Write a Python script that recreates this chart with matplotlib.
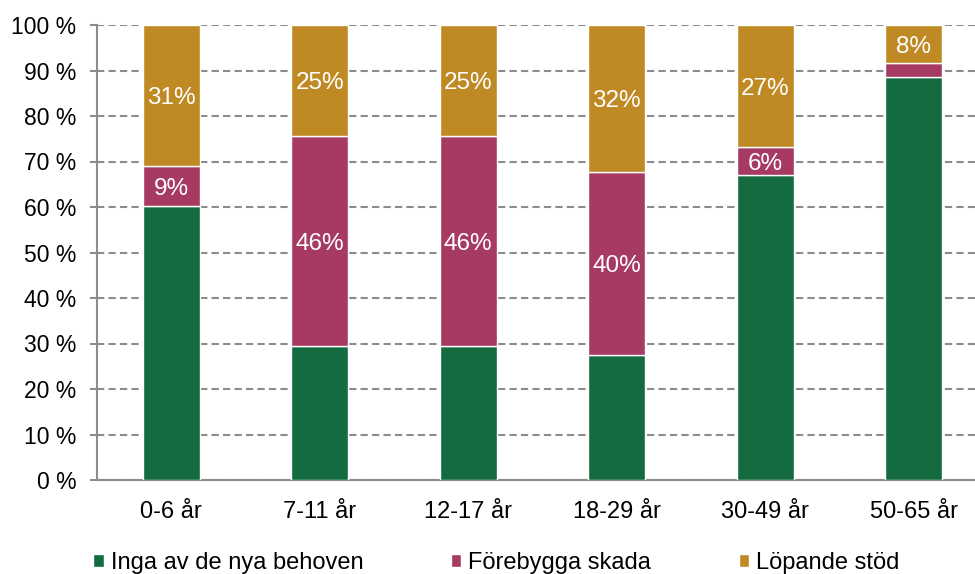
import matplotlib
matplotlib.use("Agg")
import matplotlib.pyplot as plt
import numpy as np

plt.rcParams['font.family'] = ['Liberation Sans', 'DejaVu Sans']

categories = ["0-6 år", "7-11 år", "12-17 år", "18-29 år", "30-49 år", "50-65 år"]
series_names = ["Inga av de nya behoven", "Förebygga skada", "Löpande stöd"]
inga = [60.2, 29.4, 29.4, 27.4, 67.0, 88.5]
forebygga = [8.9, 46.2, 46.2, 40.4, 6.2, 3.1]
lopande = [30.9, 24.4, 24.4, 32.2, 26.8, 8.4]
forebygga_labels = ["9%", "46%", "46%", "40%", "6%", ""]
lopande_labels = ["31%", "25%", "25%", "32%", "27%", "8%"]
yticks = [0, 10, 20, 30, 40, 50, 60, 70, 80, 90, 100]
ytick_labels = [f"{v} %" for v in yticks]

colors = ["#146B3F", "#A63A62", "#BF8A24"]

fig = plt.figure(figsize=(9.75, 5.74), dpi=100)
ax = fig.add_axes([97/975, 94/574, 891/975, 455/574])

x = np.arange(len(categories))
w = 0.385
b1 = ax.bar(x, inga, w, color=colors[0], edgecolor="white", linewidth=1, label=series_names[0], zorder=3)
b2 = ax.bar(x, forebygga, w, bottom=inga, color=colors[1], edgecolor="white", linewidth=1, label=series_names[1], zorder=3)
bottom3 = np.array(inga) + np.array(forebygga)
b3 = ax.bar(x, lopande, w, bottom=bottom3, color=colors[2], edgecolor="white", linewidth=1, label=series_names[2], zorder=3)

ax.bar_label(b2, labels=forebygga_labels, label_type="center", color="white", fontsize=17.5, padding=-2)
ax.bar_label(b3, labels=lopande_labels, label_type="center", color="white", fontsize=17.5, padding=-2)

ax.set_xlim(-0.5, 5.5)
ax.set_ylim(0, 100)
ax.set_yticks(yticks)
ax.set_yticklabels(ytick_labels)
ax.set_xticks(x)
ax.set_xticklabels(categories)

ax.yaxis.grid(True, linestyle=(0, (3.5, 2)), color="#8C8C8C", linewidth=1.5, zorder=0)
ax.set_axisbelow(True)
for s in ["top", "right"]:
    ax.spines[s].set_visible(False)
for s in ["left", "bottom"]:
    ax.spines[s].set_color("#8C8C8C")
    ax.spines[s].set_linewidth(1.5)
ax.tick_params(axis="y", length=5, width=1.5, color="#8C8C8C", pad=10, labelsize=16.5, labelcolor="black")
ax.tick_params(axis="x", length=0, pad=15, labelsize=17, labelcolor="black")

fig.legend(handles=[b1, b2, b3], labels=series_names, loc="center", ncol=3,
           bbox_to_anchor=(0.509, 11/574), frameon=False, fontsize=17,
           handlelength=0.45, handleheight=0.45, handletextpad=0.3, columnspacing=3.7)

fig.savefig("out.png", dpi=100)
